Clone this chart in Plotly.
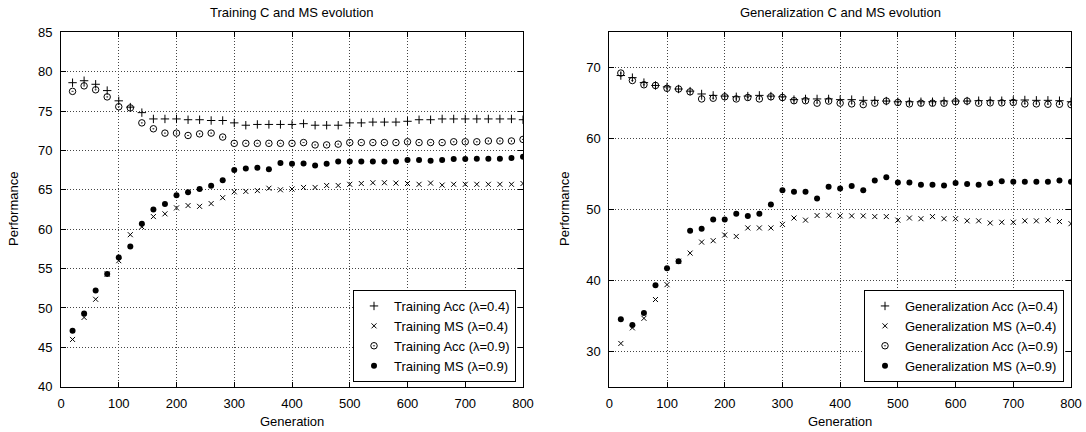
import plotly.graph_objects as go

generations = list(range(20, 801, 20))

train_acc_04 = [78.6, 78.85, 78.4, 77.6, 76.3, 75.5, 74.8, 74.0, 74.0, 74.0,
                73.9, 73.9, 73.8, 73.8, 73.5, 73.2, 73.3, 73.3, 73.3, 73.3,
                73.4, 73.2, 73.2, 73.2, 73.5, 73.5, 73.6, 73.6, 73.6, 73.7,
                73.9, 73.9, 74.0, 74.0, 74.0, 74.0, 74.0, 74.0, 74.0, 73.9]
train_ms_04 = [46.0, 48.8, 51.1, 54.3, 56.0, 59.3, 60.3, 61.6, 61.95, 62.7,
               63.0, 62.9, 63.25, 64.0, 64.75, 64.8, 64.9, 65.2, 65.0, 65.1,
               65.3, 65.3, 65.55, 65.55, 65.7, 65.8, 65.9, 65.9, 65.85, 65.8,
               65.7, 65.85, 65.6, 65.7, 65.7, 65.7, 65.7, 65.7, 65.7, 65.8]
train_acc_09 = [77.5, 78.2, 77.7, 76.8, 75.55, 75.4, 73.5, 72.75, 72.2, 72.2,
                71.9, 72.1, 72.2, 71.7, 70.9, 70.9, 70.9, 70.9, 70.9, 70.9,
                71.0, 70.7, 70.7, 70.8, 71.0, 71.0, 71.0, 71.0, 71.0, 71.1,
                71.0, 71.0, 71.0, 71.1, 71.1, 71.1, 71.2, 71.2, 71.2, 71.4]
train_ms_09 = [47.1, 49.3, 52.2, 54.3, 56.4, 57.8, 60.7, 62.5, 63.2, 64.3,
               64.7, 65.1, 65.5, 66.2, 67.5, 67.7, 67.8, 67.6, 68.4, 68.3,
               68.35, 68.1, 68.3, 68.6, 68.6, 68.6, 68.6, 68.6, 68.6, 68.8,
               68.8, 68.7, 68.8, 68.9, 68.9, 68.95, 68.95, 68.95, 69.05, 69.2]

gen_acc_04 = [68.9, 68.6, 67.9, 67.5, 67.3, 67.0, 66.7, 66.3, 66.1, 66.0,
              65.9, 66.0, 66.1, 66.0, 65.9, 65.5, 65.6, 65.6, 65.6, 65.5,
              65.5, 65.4, 65.4, 65.3, 65.2, 65.2, 65.2, 65.2, 65.3, 65.3,
              65.3, 65.35, 65.35, 65.35, 65.4, 65.45, 65.4, 65.4, 65.35, 65.2]
gen_ms_04 = [31.1, 33.3, 34.65, 37.3, 39.4, 42.7, 43.85, 45.4, 45.6, 46.4,
             46.2, 47.4, 47.4, 47.4, 47.9, 48.8, 48.5, 49.15, 49.2, 49.1,
             49.1, 49.1, 49.0, 49.0, 48.5, 48.8, 48.7, 49.0, 48.7, 48.7,
             48.4, 48.4, 48.1, 48.2, 48.2, 48.4, 48.4, 48.5, 48.3, 48.0]
gen_acc_09 = [69.25, 68.2, 67.6, 67.5, 67.1, 67.0, 66.6, 65.6, 65.7, 65.9,
              65.6, 65.8, 65.6, 65.9, 65.8, 65.35, 65.35, 65.0, 65.3, 65.0,
              64.9, 64.8, 65.0, 65.3, 65.1, 64.9, 65.0, 65.0, 65.0, 65.2,
              65.3, 65.0, 65.05, 65.05, 65.1, 64.9, 64.9, 64.85, 64.85, 64.8]
gen_ms_09 = [34.5, 33.7, 35.4, 39.3, 41.7, 42.7, 47.0, 47.3, 48.6, 48.6,
             49.4, 49.1, 49.4, 50.7, 52.7, 52.5, 52.5, 51.55, 53.2, 52.95,
             53.3, 52.7, 54.1, 54.55, 53.8, 53.8, 53.5, 53.5, 53.4, 53.75,
             53.6, 53.5, 53.7, 54.0, 53.9, 53.9, 53.9, 53.9, 54.1, 53.9]

train_names = ["Training Acc (λ=0.4)", "Training MS (λ=0.4)",
               "Training Acc (λ=0.9)", "Training MS (λ=0.9)"]
gen_names = ["Generalization Acc (λ=0.4)", "Generalization MS (λ=0.4)",
             "Generalization Acc (λ=0.9)", "Generalization MS (λ=0.9)"]
titles = ["Training C and MS evolution", "Generalization C and MS evolution"]
x_ticks = [0, 100, 200, 300, 400, 500, 600, 700, 800]
left_y_ticks = [40, 45, 50, 55, 60, 65, 70, 75, 80, 85]
right_y_ticks = [30, 40, 50, 60, 70]

FONT = "Liberation Sans, Arial, sans-serif"
W, H = 1086, 432
FS = 13

symbols = [
    dict(symbol="cross-thin-open", size=6, line=dict(color="black", width=1)),
    dict(symbol="x-thin-open", size=5, line=dict(color="black", width=1)),
    dict(symbol="circle-open-dot", size=6.5, line=dict(color="black", width=1)),
    dict(symbol="circle", size=6, line=dict(color="black", width=0)),
]

fig = go.Figure()
for name, ys, mk in zip(train_names, [train_acc_04, train_ms_04, train_acc_09, train_ms_09], symbols):
    fig.add_trace(go.Scatter(x=generations, y=ys, mode="markers", name=name,
                             marker=dict(mk, color="black"), xaxis="x", yaxis="y", legend="legend"))
for name, ys, mk in zip(gen_names, [gen_acc_04, gen_ms_04, gen_acc_09, gen_ms_09], symbols):
    fig.add_trace(go.Scatter(x=generations, y=ys, mode="markers", name=name,
                             marker=dict(mk, color="black"), xaxis="x2", yaxis="y2", legend="legend2"))

ydom = [1 - 386.7 / H, 1 - 32.3 / H]
axis_common = dict(showline=True, linecolor="black", linewidth=1, mirror="allticks",
                   ticks="inside", ticklen=5, tickcolor="black", showgrid=True,
                   gridcolor="#444", griddash="1px,2px", gridwidth=1, zeroline=False,
                   automargin=False, ticklabelstandoff=5,
                   tickfont=dict(family=FONT, size=FS, color="black"))

legend_common = dict(yanchor="bottom", xanchor="right", bgcolor="white",
                     bordercolor="black", borderwidth=1, tracegroupgap=0,
                     font=dict(family=FONT, size=FS, color="black"))


def label(text, x, y, angle=0):
    return dict(text=text, x=x / W, y=1 - y / H, xref="paper", yref="paper",
                xanchor="center", yanchor="middle", showarrow=False,
                textangle=angle, font=dict(size=FS, family=FONT, color="black"))


fig.update_layout(
    width=W, height=H,
    margin=dict(l=0, r=0, t=0, b=0, autoexpand=False),
    paper_bgcolor="white", plot_bgcolor="white",
    font=dict(family=FONT, color="black"),
    xaxis=dict(axis_common, domain=[61 / W, 523 / W], range=[0, 800], tickvals=x_ticks, anchor="y"),
    yaxis=dict(axis_common, domain=ydom, range=[40, 85], tickvals=left_y_ticks, anchor="x"),
    xaxis2=dict(axis_common, domain=[609.3 / W, 1071 / W], range=[0, 800], tickvals=x_ticks, anchor="y2"),
    yaxis2=dict(axis_common, domain=ydom, range=[25, 75], tickvals=right_y_ticks, anchor="x2"),
    legend=dict(legend_common, x=516 / W, y=1 - 382 / H),
    legend2=dict(legend_common, x=1064 / W, y=1 - 382 / H),
    annotations=[
        label(titles[0], 292, 13),
        label(titles[1], 840, 13),
        label("Generation", 292, 421),
        label("Generation", 840, 421),
        label("Performance", 13, 209, -90),
        label("Performance", 564, 209, -90),
    ],
)

fig.write_html("out.html", config={"displayModeBar": False},
               post_script="document.body.style.margin='0';")
